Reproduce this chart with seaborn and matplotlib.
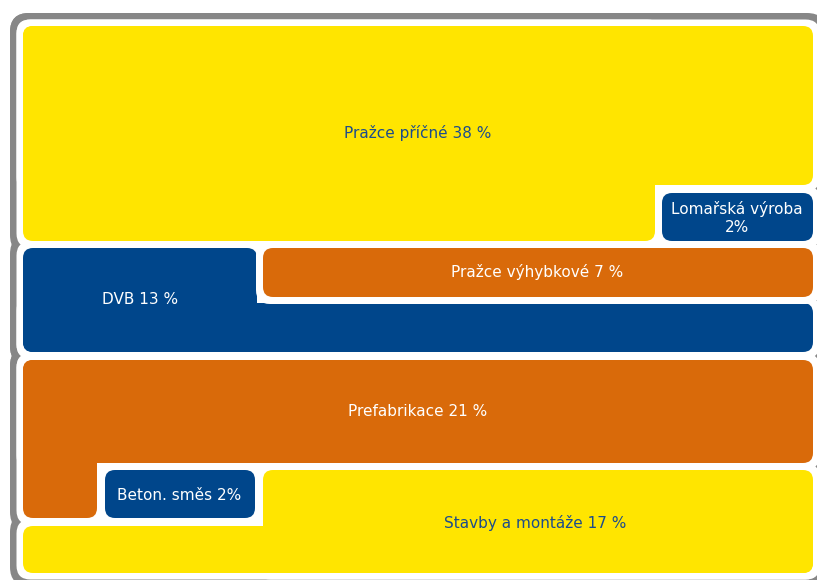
import seaborn as sns
import matplotlib.pyplot as plt
from matplotlib.patches import FancyBboxPatch

# Production share by division (percent)
divisions = ["Pražce příčné", "Lomařská výroba", "Pražce výhybkové", "DVB",
             "Prefabrikace", "Beton. směs", "Stavby a montáže"]
shares = [38, 2, 7, 13, 21, 2, 17]
# what goes between the name and the number
separators = [" ", "\n", " ", " ", " ", " ", " "]
# space between the number and the % sign
pct_gaps = [" ", "", " ", " ", " ", "", " "]

# Colours
yellow = "#FFE500"
blue = "#00468B"
orange = "#D96A0A"
grey = "#878787"
dark_text = "#1C4C8C"

# Layout of each block: rectangular pieces (x0, y0, x1, y1) in pixels, label anchor
layout = [
    dict(pieces=[(23, 26, 813, 185), (23, 26, 655, 241)], color=yellow, text=dark_text,
         anchor=(418, 133), inner=False),
    dict(pieces=[(662, 193, 813, 241)], color=blue, text="white",
         anchor=(737, 218), inner=True),
    dict(pieces=[(263, 248, 813, 297)], color=orange, text="white",
         anchor=(537, 272), inner=True),
    dict(pieces=[(23, 248, 257, 352), (23, 303, 813, 352)], color=blue, text="white",
         anchor=(140, 300), inner=False),
    dict(pieces=[(23, 360, 813, 463), (23, 360, 97, 518)], color=orange, text="white",
         anchor=(418, 411), inner=False),
    dict(pieces=[(105, 470, 255, 518)], color=blue, text="white",
         anchor=(179, 495), inner=True),
    dict(pieces=[(263, 470, 813, 573), (23, 526, 813, 573)], color=yellow, text=dark_text,
         anchor=(535, 523), inner=False),
]

sns.set_theme(style="white")
plt.rcParams["font.family"] = ["DejaVu Sans"]

fig = plt.figure(figsize=(8.17, 5.80), dpi=100)
ax = fig.add_axes([0, 0, 1, 1])
ax.set_xlim(0, 817)
ax.set_ylim(580, 0)
ax.axis("off")


def rbox(x0, y0, x1, y1, grow, radius, color, z):
    patch = FancyBboxPatch((x0 - grow, y0 - grow), (x1 - x0) + 2 * grow, (y1 - y0) + 2 * grow,
                           boxstyle=f"round,pad=0,rounding_size={radius}",
                           mutation_aspect=1, facecolor=color, edgecolor="none",
                           linewidth=0, zorder=z)
    ax.add_patch(patch)


# grey frame, white gaps, then the coloured blocks
for block in layout:
    for p in block["pieces"]:
        rbox(*p, 13, 19, grey, 1)
for block in layout:
    for p in block["pieces"]:
        rbox(*p, 6.5, 14, "white", 2)
for block in layout:
    for p in block["pieces"]:
        rbox(*p, 0, 10, block["color"], 3)
# inner blocks get their white border again on top of the neighbours
for block in layout:
    if block["inner"]:
        for p in block["pieces"]:
            rbox(*p, 7, 14, "white", 4)
            rbox(*p, 0, 10, block["color"], 5)

for name, value, sep, gap, block in zip(divisions, shares, separators, pct_gaps, layout):
    label = f"{name}{sep}{value}{gap}%"
    x, y = block["anchor"]
    ax.text(x, y, label, color=block["text"], fontsize=11, ha="center", va="center",
            linespacing=1.3, zorder=6)

fig.savefig("out.png", dpi=100)
